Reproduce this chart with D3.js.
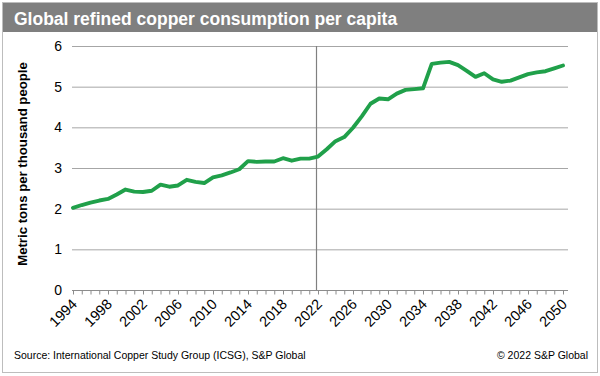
<!DOCTYPE html>
<html>
<head>
<meta charset="utf-8">
<script src="https://cdn.jsdelivr.net/npm/d3@7"></script>
<style>
  body { margin: 0; background: #fff; }
  svg { display: block; font-family: "Liberation Sans", Arial, sans-serif; }
</style>
</head>
<body>
<div class="graph"></div>
<script>
// Global refined copper consumption per capita (metric tons per thousand people)

const years = d3.range(1994, 2051);
const consumption = [
  2.02, 2.09, 2.15, 2.20, 2.24, 2.35, 2.47, 2.42, 2.41, 2.44,
  2.59, 2.54, 2.57, 2.71, 2.66, 2.63, 2.77, 2.82, 2.89, 2.97,
  3.17, 3.15, 3.16, 3.16, 3.24, 3.18, 3.23, 3.23, 3.28, 3.46,
  3.66, 3.76, 3.99, 4.27, 4.58, 4.71, 4.69, 4.83, 4.92, 4.94,
  4.96, 5.56, 5.59, 5.61, 5.53, 5.39, 5.24, 5.33, 5.18, 5.12,
  5.15, 5.23, 5.31, 5.35, 5.38, 5.45, 5.52
];
const yTicks = [0, 1, 2, 3, 4, 5, 6];
const labelYears = d3.range(1994, 2051, 4);
const dividerYear = 2022;

const title = "Global refined copper consumption per capita";
const yTitle = "Metric tons per thousand people";
const source = "Source: International Copper Study Group (ICSG), S&P Global";
const copyright = "\u00a9 2022 S&P Global";

const width = 600, height = 376;
const plotLeft = 72, plotRight = 568, plotTop = 46, plotBottom = 290;

let svg = d3.select(".graph").append("svg")
    .attr("width", width)
    .attr("height", height);

// frame and title bar
svg.append("rect")
    .attr("x", 2.5).attr("y", 2.5)
    .attr("width", 595).attr("height", 370)
    .attr("fill", "#fff")
    .attr("stroke", "#bdbdbd");

svg.append("rect")
    .attr("x", 3).attr("y", 3)
    .attr("width", 594).attr("height", 29)
    .attr("fill", "#7f7f7f");

svg.append("text")
    .attr("x", 14).attr("y", 25)
    .attr("fill", "#fff")
    .attr("font-size", 17.5)
    .attr("font-weight", "bold")
    .text(title);

let x = d3.scaleLinear().domain([1994, 2050]).range([73, 563]);
let y = d3.scaleLinear().domain([0, 6]).range([plotBottom, plotTop]);

// horizontal gridlines
svg.append("g")
    .selectAll("line")
    .data(yTicks.filter(d => d > 0))
    .join("line")
    .attr("x1", plotLeft).attr("x2", plotRight)
    .attr("y1", d => y(d) + 0.5).attr("y2", d => y(d) + 0.5)
    .attr("stroke", "#a6a6a6")
    .attr("stroke-width", 1);

// y axis labels (no axis line)
let yAxis = svg.append("g")
    .attr("transform", "translate(" + (plotLeft - 10) + ",0)")
    .call(d3.axisLeft(y).tickValues(yTicks).tickSize(0).tickPadding(0).tickFormat(d3.format("d")));
yAxis.select(".domain").remove();
yAxis.selectAll("text")
    .attr("font-family", "Liberation Sans, Arial, sans-serif")
    .attr("font-size", 14)
    .attr("fill", "#000");

svg.append("text")
    .attr("transform", "translate(27,164) rotate(-90)")
    .attr("text-anchor", "middle")
    .attr("font-size", 13.2)
    .attr("font-weight", "bold")
    .text(yTitle);

// 2022 divider
svg.append("line")
    .attr("x1", x(dividerYear) - 1.5).attr("x2", x(dividerYear) - 1.5)
    .attr("y1", plotTop).attr("y2", plotBottom)
    .attr("stroke", "#808080")
    .attr("stroke-width", 1.2);

// x axis: yearly ticks, label every 4 years
let xAxis = svg.append("g")
    .attr("transform", "translate(0," + (plotBottom + 0.5) + ")")
    .call(d3.axisBottom(x).tickValues(years).tickSize(4).tickFormat(""));
xAxis.select(".domain")
    .attr("d", "M" + plotLeft + ",0H" + plotRight)
    .attr("stroke", "#8c8c8c");
xAxis.selectAll(".tick line").attr("stroke", "#8c8c8c");

svg.append("g")
    .selectAll("text")
    .data(labelYears)
    .join("text")
    .attr("transform", d => "translate(" + (x(d) + 5) + ",305) rotate(-45)")
    .attr("text-anchor", "end")
    .attr("font-size", 14.5)
    .attr("fill", "#000")
    .text(d => d);

// consumption line
let line = d3.line()
    .x((d, i) => x(years[i]))
    .y(d => y(d));

svg.append("path")
    .datum(consumption)
    .attr("d", line)
    .attr("fill", "none")
    .attr("stroke", "#20a04a")
    .attr("stroke-width", 3.9)
    .attr("stroke-linejoin", "round")
    .attr("stroke-linecap", "round");

// footer
svg.append("text")
    .attr("x", 14).attr("y", 359)
    .attr("font-size", 10.5)
    .attr("fill", "#000")
    .text(source);

svg.append("text")
    .attr("x", 588).attr("y", 359)
    .attr("text-anchor", "end")
    .attr("font-size", 10.5)
    .attr("fill", "#000")
    .text(copyright);
</script>
</body>
</html>
